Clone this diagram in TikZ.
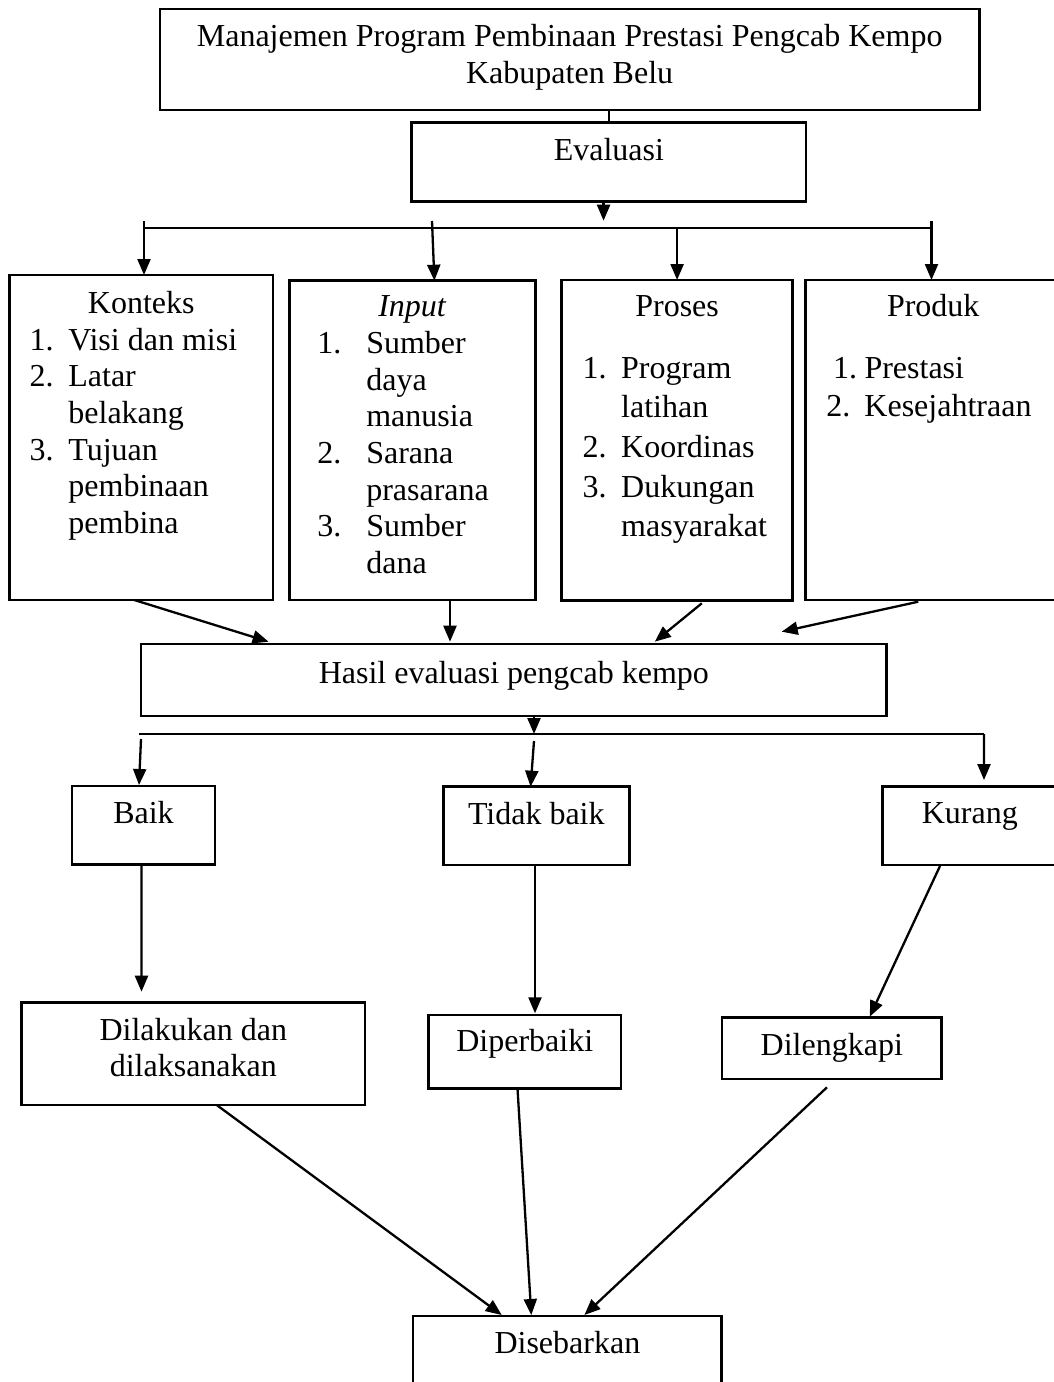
\documentclass[tikz,border=0pt]{standalone}
\usepackage{fontspec}
\setmainfont{Liberation Serif}
\usepackage{tikz}
\usetikzlibrary{arrows.meta, calc}
\newlength\nomx
\newlength\nomw
\newcommand{\isi}[4]{\parbox[t][#2][t]{#1}{\centering\rule{0pt}{#3}#4}}
\newcommand{\nomor}[2]{\setlength\nomx{#1}\setlength\nomw{#2}}
\newcommand{\butir}[2]{\par\raggedright\hspace*{\nomx}\makebox[\nomw][l]{#1}#2}
\newcommand{\lanjut}[1]{\par\raggedright\hspace*{\nomx}\hspace*{\nomw}#1}
\tikzset{
  kotak/.style = {draw, line width=2.7pt, inner sep=0pt, outer sep=0pt,
                  anchor=north west, font=\fontsize{32}{36.7}\selectfont},
  panah/.style = {-{Triangle[length=16pt, width=13pt]}, line width=2.3pt},
  garis/.style = {line width=2.1pt}
}

\begin{document}
\begin{tikzpicture}[x=1pt, y=-1pt]
  \useasboundingbox (0,0) rectangle (1053,1382);
  \node[kotak] (top) at (160,9)
       {\isi{819.3pt}{101pt}{37.7pt}{Manajemen Program Pembinaan Prestasi Pengcab Kempo\\Kabupaten Belu}};
  \node[kotak] (eval) at (411.7,122.7) {\isi{394.3pt}{79pt}{37.3pt}{Evaluasi}};
  \node[kotak] (kont) at (9.6,275)
       {\isi{263.4pt}{325pt}{38.3pt}{Konteks\nomor{20pt}{38.8pt}%
        \butir{1.}{Visi dan misi}\butir{2.}{Latar}\lanjut{belakang}%
        \butir{3.}{Tujuan}\lanjut{pembinaan}\lanjut{pembina}}};
  \node[kotak] (inp) at (289.3,280.7)
       {\isi{246.2pt}{319.3pt}{36pt}{\textit{Input}\nomor{28pt}{49pt}%
        \butir{1.}{Sumber}\lanjut{daya}\lanjut{manusia}%
        \butir{2.}{Sarana}\lanjut{prasarana}\butir{3.}{Sumber}\lanjut{dana}}};
  \node[kotak] (pros) at (561.7,280)
       {\isi{230.8pt}{320.7pt}{36.7pt}{Proses\par\setlength\baselineskip{39.6pt}\vspace{22pt}%
        \nomor{21pt}{38.5pt}\butir{1.}{Program}\lanjut{latihan}%
        \butir{2.}{Koordinas}\butir{3.}{Dukungan}\lanjut{masyarakat}}};
  \node[kotak] (prod) at (805.5,280)
       {\isi{255.5pt}{320pt}{36.7pt}{Produk\par\setlength\baselineskip{38.4pt}\vspace{23.2pt}%
        \nomor{27.7pt}{31.3pt}\butir{1.}{Prestasi}%
        \nomor{20.8pt}{38.2pt}\butir{2.}{Kesejahtraan}}};
  \node[kotak] (hasil) at (141,644) {\isi{745.6pt}{72pt}{39.3pt}{Hasil evaluasi pengcab kempo}};
  \node[kotak] (baik) at (72,786) {\isi{143pt}{78.5pt}{37.3pt}{Baik}};
  \node[kotak] (tidak) at (443.3,786.7) {\isi{186pt}{78.3pt}{37.3pt}{Tidak baik}};
  \node[kotak] (kurang) at (882.7,786.7) {\isi{174.3pt}{78.3pt}{36.6pt}{Kurang}};
  \node[kotak] (dila) at (21.7,1002.7) {\isi{343.3pt}{102.3pt}{37.3pt}{Dilakukan dan\\dilaksanakan}};
  \node[kotak] (perb) at (428.5,1015) {\isi{192.5pt}{73.3pt}{36.7pt}{Diperbaiki}};
  \node[kotak] (leng) at (722,1017.7) {\isi{219.6pt}{61.3pt}{37.3pt}{Dilengkapi}};
  \node[kotak] (sebar) at (413,1316) {\isi{308.8pt}{100pt}{37.3pt}{Disebarkan}};

  \coordinate (busL) at (144,227.7);
  \coordinate (busR) at (931.5,227.7);
  \coordinate (bus2L) at (139,734);
  \coordinate (bus2R) at (984,734);

  \draw[garis] (eval.north |- top.south) -- (eval.north);
  \draw[panah] ($(eval.south)+(-5.3,0)$) -- ++(0,19);
  \draw[garis] (busL) -- (busR);
  \draw[panah] ($(busL)+(0,-6.7)$) -- (busL |- kont.north);
  \draw[panah] ($(inp.north)+(19.6,-59.7)$) -- ($(inp.north)+(22,0)$);
  \draw[panah] (pros.north |- busL) -- (pros.north);
  \draw[panah] ($(busR)+(0,-6.7)$) -- (busR |- prod.north);

  \draw[panah] ($(kont.south)+(-7,0)$) -- ($(hasil.north)+(-245.2,-2.3)$);
  \draw[panah] ($(inp.south)+(37.6,0)$) -- ($(hasil.north)+(-63.8,-2.3)$);
  \draw[panah] ($(pros.south)+(24.7,2.6)$) -- ($(hasil.north)+(141,-2.3)$);
  \draw[panah] ($(prod.south)+(-15,1.7)$) -- ($(hasil.north east)+(-104.9,-12.3)$);

  \draw[panah] ($(hasil.south)+(20.2,0)$) -- ++(0,18);
  \draw[garis] (bus2L) -- (bus2R);
  \draw[panah] ($(bus2L)+(2,5)$) -- ($(baik.north)+(-4.5,-1)$);
  \draw[panah] ($(hasil.south)+(20.2,25)$) -- ($(tidak.north)+(-5.7,0)$);
  \draw[panah] (bus2R) -- ($(kurang.north)+(14.15,-6.7)$);

  \draw[panah] ($(baik.south)+(-2,0)$) -- ($(dila.north)+(-51.85,-11)$);
  \draw[panah] ($(tidak.south)+(-1.3,0)$) -- ($(perb.north)+(10.25,-1.7)$);
  \draw[panah] ($(kurang.south)+(-29.85,1)$) -- ($(leng.north)+(37.9,-1)$);
  \draw[panah] ($(dila.south)+(23.35,0)$) -- ($(sebar.north)+(-65.7,-1)$);
  \draw[panah] ($(perb.south)+(-7.25,0)$) -- ($(sebar.north)+(-36.1,-1)$);
  \draw[panah] ($(leng.south)+(-4.8,8.3)$) -- ($(sebar.north)+(17,-1)$);
\end{tikzpicture}
\end{document}
